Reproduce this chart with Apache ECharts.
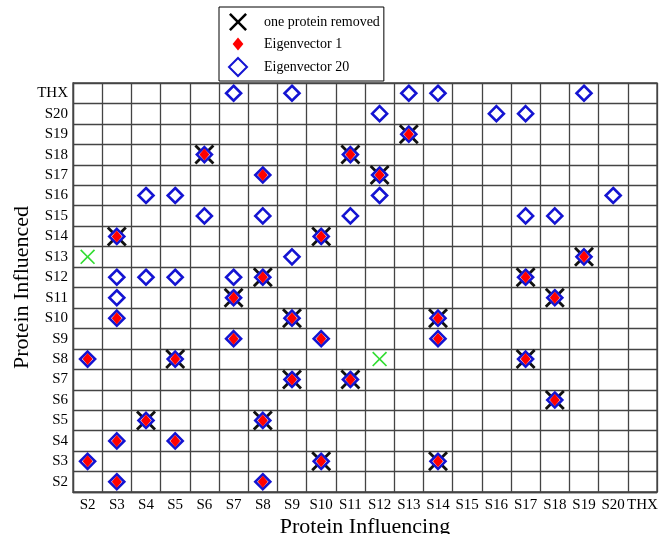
<!DOCTYPE html>
<html>
<head>
<meta charset="utf-8">
<script src="https://cdn.jsdelivr.net/npm/echarts@6/dist/echarts.min.js"></script>
<style>
html,body{margin:0;padding:0;background:#fff;}
#chart{width:670px;height:534px;}
</style>
</head>
<body>
<div id="chart"></div>
<script>
// Categories (both axes)
const cats = ['S2','S3','S4','S5','S6','S7','S8','S9','S10','S11','S12','S13','S14','S15','S16','S17','S18','S19','S20','THX'];

// Points as [protein influencing (x), protein influenced (y)]
const removed = [
  ['S13','S19'],['S6','S18'],['S11','S18'],['S12','S17'],['S3','S14'],['S10','S14'],
  ['S19','S13'],['S8','S12'],['S17','S12'],['S7','S11'],['S18','S11'],['S9','S10'],
  ['S14','S10'],['S5','S8'],['S17','S8'],['S9','S7'],['S11','S7'],['S18','S6'],
  ['S4','S5'],['S8','S5'],['S10','S3'],['S14','S3']
];

const eigen1 = [
  ['S13','S19'],['S6','S18'],['S11','S18'],['S8','S17'],['S12','S17'],['S3','S14'],
  ['S10','S14'],['S19','S13'],['S8','S12'],['S17','S12'],['S7','S11'],['S18','S11'],
  ['S3','S10'],['S9','S10'],['S14','S10'],['S7','S9'],['S10','S9'],['S14','S9'],
  ['S2','S8'],['S5','S8'],['S17','S8'],['S9','S7'],['S11','S7'],['S18','S6'],
  ['S4','S5'],['S8','S5'],['S3','S4'],['S5','S4'],['S2','S3'],['S10','S3'],
  ['S14','S3'],['S3','S2'],['S8','S2']
];

const eigen20 = [
  ['S7','THX'],['S9','THX'],['S13','THX'],['S14','THX'],['S19','THX'],
  ['S12','S20'],['S16','S20'],['S17','S20'],
  ['S13','S19'],['S6','S18'],['S11','S18'],['S8','S17'],['S12','S17'],
  ['S4','S16'],['S5','S16'],['S12','S16'],['S20','S16'],
  ['S6','S15'],['S8','S15'],['S11','S15'],['S17','S15'],['S18','S15'],
  ['S3','S14'],['S10','S14'],['S9','S13'],['S19','S13'],
  ['S3','S12'],['S4','S12'],['S5','S12'],['S7','S12'],['S8','S12'],['S17','S12'],
  ['S3','S11'],['S7','S11'],['S18','S11'],
  ['S3','S10'],['S9','S10'],['S14','S10'],['S7','S9'],['S10','S9'],['S14','S9'],
  ['S2','S8'],['S5','S8'],['S17','S8'],['S9','S7'],['S11','S7'],['S18','S6'],
  ['S4','S5'],['S8','S5'],['S3','S4'],['S5','S4'],['S2','S3'],['S10','S3'],
  ['S14','S3'],['S3','S2'],['S8','S2']
];

const greenMarks = [['S2','S13'],['S12','S8']];

const X_PATH = 'path://M10,0 L50,40 L90,0 L100,10 L60,50 L100,90 L90,100 L50,60 L10,100 L0,90 L40,50 L0,10 Z';
const X_THIN = 'path://M8,0 L50,42 L92,0 L100,8 L58,50 L100,92 L92,100 L50,58 L8,100 L0,92 L42,50 L0,8 Z';
const SMALL_DIAMOND = 'path://M0,0 M100,100 M50,14 L80,50 L50,86 L20,50 Z';

const FONT = 'Liberation Serif';
const chart = echarts.init(document.getElementById('chart'));

const axisCommon = {
  type: 'category',
  data: cats,
  boundaryGap: true,
  nameLocation: 'middle',
  nameMoveOverlap: false,
  nameTextStyle: {fontFamily: FONT, fontSize: 22, color: '#000'},
  axisLine: {lineStyle: {color: '#444', width: 1.3}},
  axisTick: {show: false},
  splitLine: {show: true, lineStyle: {color: '#444', width: 1.3}},
  axisLabel: {interval: 0, fontFamily: FONT, fontSize: 15, color: '#000'}
};

chart.setOption({
  animation: false,
  backgroundColor: '#fff',
  grid: {left: 73, right: 13, top: 83, bottom: 42, containLabel: false, outerBoundsMode: 'none',
    show: true, borderColor: '#444', borderWidth: 1.3, backgroundColor: 'transparent'},
  xAxis: Object.assign({}, axisCommon, {name: 'Protein Influencing', nameGap: 24,
    axisLabel: Object.assign({}, axisCommon.axisLabel, {margin: 6})}),
  yAxis: Object.assign({}, axisCommon, {name: 'Protein Influenced', nameGap: 40,
    axisLabel: Object.assign({}, axisCommon.axisLabel, {margin: 5})}),
  legend: {
    orient: 'vertical',
    left: 219, top: 7,
    padding: [6, 4, 4, 9],
    itemWidth: 18, itemHeight: 18, itemGap: 4,
    borderColor: '#000', borderWidth: 1, backgroundColor: '#fff',
    textStyle: {fontFamily: FONT, fontSize: 14, color: '#000', padding: [0, 0, 0, 12]},
    data: [
      {name: 'one protein removed', icon: X_PATH, itemStyle: {color: '#000'}},
      {name: 'Eigenvector 1', icon: SMALL_DIAMOND, itemStyle: {color: '#ff0000', borderWidth: 0}},
      {name: 'Eigenvector 20', icon: 'diamond'}
    ]
  },
  series: [
    {
      name: 'one protein removed', type: 'scatter', data: removed,
      symbol: X_PATH, symbolSize: 20,
      itemStyle: {color: '#111', opacity: 1}
    },
    {
      name: 'Eigenvector 20', type: 'scatter', data: eigen20,
      symbol: 'diamond', symbolSize: 15,
      itemStyle: {color: '#fff', borderColor: '#1414d2', borderWidth: 2.6, opacity: 1}
    },
    {
      name: 'Eigenvector 1', type: 'scatter', data: eigen1,
      symbol: 'diamond', symbolSize: [10, 12],
      itemStyle: {color: '#ff0000', opacity: 1}
    },
    {
      name: 'other', type: 'scatter', data: greenMarks,
      symbol: X_THIN, symbolSize: 15,
      itemStyle: {color: '#33dd33', opacity: 1}
    }
  ]
});
</script>
</body>
</html>
